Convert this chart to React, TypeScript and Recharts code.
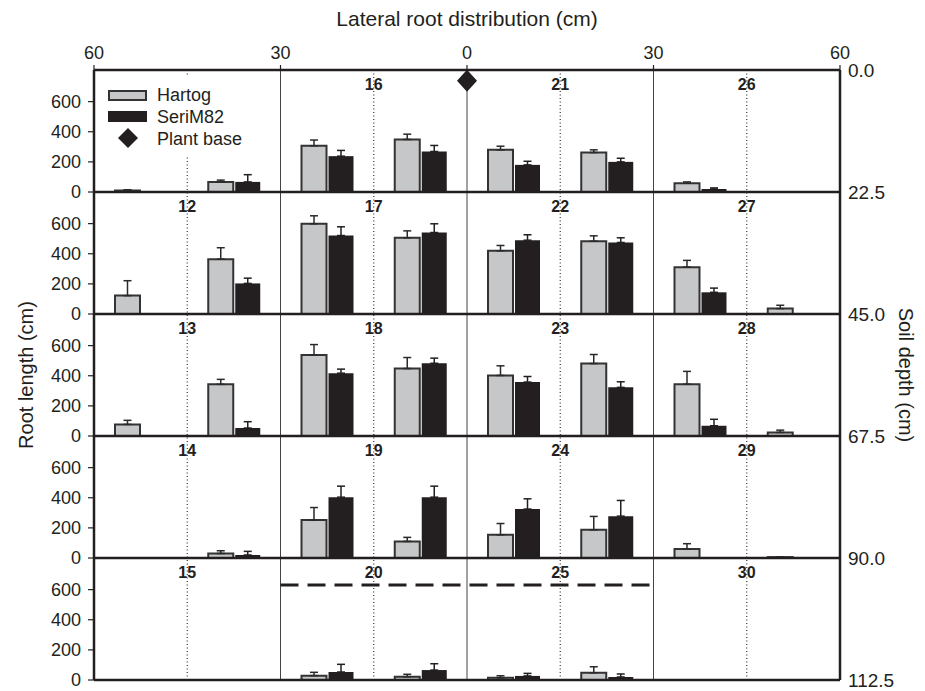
import React from 'react';
import {
  ComposedChart,
  Bar,
  XAxis,
  YAxis,
  ErrorBar,
  ReferenceLine,
  ReferenceArea,
  ReferenceDot,
  Legend,
} from 'recharts';

// Lateral sub-position centres (cm from plant base, negative = left side)
const positions = [-52.5, -37.5, -22.5, -7.5, 7.5, 22.5, 37.5, 52.5];

// Root length (cm) per soil layer
const hartog_0_22 = [10, 67, 307, 349, 280, 262, 58, 0];
const hartogErr_0_22 = [5, 12, 38, 35, 24, 18, 9, 0];
const seri_0_22 = [0, 67, 238, 269, 180, 200, 20, 0];
const seriErr_0_22 = [0, 48, 38, 40, 24, 24, 7, 0];

const hartog_22_45 = [122, 364, 599, 506, 420, 483, 311, 36];
const hartogErr_22_45 = [99, 76, 53, 46, 35, 36, 45, 22];
const seri_22_45 = [0, 203, 521, 541, 490, 475, 144, 0];
const seriErr_22_45 = [0, 35, 58, 58, 36, 31, 28, 0];

const hartog_45_67 = [77, 343, 538, 448, 402, 481, 344, 24];
const hartogErr_45_67 = [27, 33, 69, 73, 64, 60, 85, 15];
const seri_45_67 = [0, 53, 417, 483, 358, 323, 68, 0];
const seriErr_45_67 = [0, 42, 27, 34, 37, 37, 43, 0];

const hartog_67_90 = [0, 30, 252, 110, 154, 187, 59, 6];
const hartogErr_67_90 = [7, 18, 83, 27, 75, 89, 36, 0];
const seri_67_90 = [0, 20, 404, 404, 325, 278, 0, 0];
const seriErr_67_90 = [0, 24, 73, 73, 68, 104, 3, 0];

const hartog_90_112 = [0, 0, 29, 22, 15, 48, 0, 0];
const hartogErr_90_112 = [0, 0, 22, 16, 13, 40, 0, 0];
const seri_90_112 = [0, 0, 53, 66, 27, 20, 0, 0];
const seriErr_90_112 = [0, 0, 51, 42, 17, 20, 0, 0];

const layers = [
  { h: hartog_0_22, he: hartogErr_0_22, s: seri_0_22, se: seriErr_0_22 },
  { h: hartog_22_45, he: hartogErr_22_45, s: seri_22_45, se: seriErr_22_45 },
  { h: hartog_45_67, he: hartogErr_45_67, s: seri_45_67, se: seriErr_45_67 },
  { h: hartog_67_90, he: hartogErr_67_90, s: seri_67_90, se: seriErr_67_90 },
  { h: hartog_90_112, he: hartogErr_90_112, s: seri_90_112, se: seriErr_90_112 },
];

const depthTicks = [0, 22.5, 45, 67.5, 90, 112.5];
const lateralTicks = [-60, -30, 0, 30, 60];
const lengthTicks = [0, 200, 400, 600];
const panelBounds = [-60, -30, 0, 30, 60];
const dottedLines = [-45, -15, 15, 45];
const columnLines = [-30, 0, 30];
const panelNumbers: (number | null)[][] = [
  [null, 16, 21, 26],
  [12, 17, 22, 27],
  [13, 18, 23, 28],
  [14, 19, 24, 29],
  [15, 20, 25, 30],
];
const legendNames = ['Hartog', 'SeriM82', 'Plant base'];
const plantBase = { lateral: 0, depth: 2 };
const dashedLevel = { value: 630, from: -30, to: 30, layer: 4 };

const ROW_MAX = 810;
const NROWS = layers.length;

const GRAY = '#c6c7c9';
const OUTLINE = '#333333';
const BLACK = '#231f20';
const FONT = '"Liberation Sans", Arial, Helvetica, sans-serif';

const data = positions.map((p, i) => {
  const o: any = { pos: p };
  layers.forEach((l, k) => {
    o[`h${k}`] = l.h[i];
    o[`he${k}`] = [0, l.he[i]];
    o[`s${k}`] = l.s[i];
    o[`se${k}`] = [0, l.se[i]];
  });
  return o;
});

const lenAxisTicks: number[] = [];
for (let k = 0; k < NROWS; k++) {
  lengthTicks.forEach((t) => lenAxisTicks.push(k * ROW_MAX + t));
}

const LegendBox = () => (
  <div style={{ background: '#fff', width: 150, height: 80 }}>
    <svg width={150} height={80} style={{ display: 'block' }}>
      <rect x={9} y={15} width={37} height={9} fill={GRAY} stroke={OUTLINE} strokeWidth={2} />
      <text x={57} y={25} fontSize={18} fill={BLACK} fontFamily={FONT}>{legendNames[0]}</text>
      <rect x={8} y={35} width={39} height={11} fill={BLACK} />
      <text x={57} y={47} fontSize={18} fill={BLACK} fontFamily={FONT}>{legendNames[1]}</text>
      <polygon points="28,52 38,62 28,72 18,62" fill={BLACK} />
      <text x={57} y={69} fontSize={18} fill={BLACK} fontFamily={FONT}>{legendNames[2]}</text>
    </svg>
  </div>
);

const Diamond = (p: any) => {
  const { cx, cy } = p;
  const r = 11;
  return (
    <polygon
      points={`${cx},${cy - r} ${cx + r - 1},${cy} ${cx},${cy + r} ${cx - r + 1},${cy}`}
      fill={BLACK}
    />
  );
};

export default function App() {
  return (
    <div style={{ position: 'absolute', left: 0, top: 0, width: 925, height: 691, background: '#fff', fontFamily: FONT }}>
      <ComposedChart
        width={925}
        height={691}
        data={data}
        margin={{ top: 0, right: 0, bottom: 11, left: 0 }}
        barGap={2}
        barSize={25}
      >
        <XAxis
          xAxisId="lat"
          dataKey="pos"
          type="number"
          scale="linear"
          orientation="top"
          domain={[-60, 60]}
          allowDataOverflow
          ticks={lateralTicks}
          tickFormatter={(v: number) => String(Math.abs(v))}
          height={70}
          tickSize={5}
          tickMargin={6}
          axisLine={false}
          tickLine={{ stroke: BLACK, strokeWidth: 1.2 }}
          tick={{ fontSize: 18, fill: BLACK }}
          interval={0}
          label={(p: any) => {
            const vb = p.viewBox || { x: 94, y: 0, width: 746, height: 70 };
            return (
              <text x={vb.x + vb.width / 2} y={26} textAnchor="middle" fontSize={21} fill={BLACK}>
                Lateral root distribution (cm)
              </text>
            );
          }}
        />
        {layers.map((_, r) => (
          <XAxis key={`c${r}`} xAxisId={`c${r}`} dataKey="pos" type="category" hide />
        ))}
        <YAxis
          yAxisId="len"
          type="number"
          domain={[0, NROWS * ROW_MAX]}
          allowDataOverflow
          ticks={lenAxisTicks}
          interval={0}
          tickFormatter={(v: number) => String(Math.round(v % ROW_MAX))}
          width={94}
          tickSize={6}
          tickMargin={7}
          axisLine={false}
          tickLine={{ stroke: BLACK, strokeWidth: 1.2 }}
          tick={{ fontSize: 18, fill: BLACK }}
          label={(p: any) => {
            const vb = p.viewBox || { x: 0, y: 70, width: 94, height: 610 };
            const cx = vb.x + 26;
            const cy = vb.y + vb.height / 2;
            return (
              <text x={cx} y={cy} textAnchor="middle" dominantBaseline="central" fontSize={20} fill={BLACK} transform={`rotate(-90, ${cx}, ${cy})`}>
                Root length (cm)
              </text>
            );
          }}
        />
        <YAxis
          yAxisId="depth"
          orientation="right"
          type="number"
          domain={[0, 112.5]}
          reversed
          allowDataOverflow
          ticks={depthTicks}
          interval={0}
          tickFormatter={(v: number) => v.toFixed(1)}
          width={85}
          tickSize={0}
          tickMargin={8}
          axisLine={false}
          tickLine={false}
          tick={{ fontSize: 19, fill: BLACK }}
          label={(p: any) => {
            const vb = p.viewBox || { x: 840, y: 70, width: 85, height: 610 };
            const cx = vb.x + 66;
            const cy = vb.y + vb.height / 2;
            return (
              <text x={cx} y={cy} textAnchor="middle" dominantBaseline="central" fontSize={20} fill={BLACK} transform={`rotate(90, ${cx}, ${cy})`}>
                Soil depth (cm)
              </text>
            );
          }}
        />
        {layers.map((_, r) => (
          <YAxis
            key={`r${r}`}
            yAxisId={`r${r}`}
            type="number"
            domain={[-(NROWS - 1 - r) * ROW_MAX, (r + 1) * ROW_MAX]}
            allowDataOverflow
            hide
          />
        ))}

        {panelNumbers.map((row, r) =>
          row.map((n, c) =>
            n === null ? null : (
              <ReferenceArea
                key={`pa${r}-${c}`}
                xAxisId="lat"
                yAxisId="depth"
                x1={panelBounds[c]}
                x2={panelBounds[c + 1]}
                y1={depthTicks[r]}
                y2={depthTicks[r + 1]}
                fill="none"
                fillOpacity={0}
                stroke="none"
                label={{ value: String(n), position: 'insideTop', offset: 9, fontSize: 16, fontWeight: 'bold', fill: BLACK }}
              />
            ),
          ),
        )}

        {dottedLines.map((x) => (
          <ReferenceLine key={`d${x}`} xAxisId="lat" yAxisId="depth" x={x} stroke="#333" strokeWidth={1.2} strokeDasharray="1 2.5" />
        ))}
        {columnLines.map((x) => (
          <ReferenceLine key={`cl${x}`} xAxisId="lat" yAxisId="depth" x={x} stroke="#444" strokeWidth={1} />
        ))}

        {layers.map((_, r) => [
          <Bar
            key={`h${r}`}
            xAxisId={`c${r}`}
            yAxisId={`r${r}`}
            dataKey={`h${r}`}
            name="Hartog"
            fill={GRAY}
            stroke={OUTLINE}
            strokeWidth={2}
            isAnimationActive={false}
          >
            <ErrorBar dataKey={`he${r}`} width={4} stroke="#2a2a2a" strokeWidth={1.5} direction="y" />
          </Bar>,
          <Bar
            key={`s${r}`}
            xAxisId={`c${r}`}
            yAxisId={`r${r}`}
            dataKey={`s${r}`}
            name="SeriM82"
            fill={BLACK}
            isAnimationActive={false}
          >
            <ErrorBar dataKey={`se${r}`} width={4} stroke={BLACK} strokeWidth={1.5} direction="y" />
          </Bar>,
        ])}

        {depthTicks.slice(1, -1).map((y) => (
          <ReferenceLine key={`rd${y}`} xAxisId="lat" yAxisId="depth" y={y} stroke={BLACK} strokeWidth={2.5} />
        ))}
        <ReferenceLine xAxisId="lat" yAxisId="depth" y={0} stroke={BLACK} strokeWidth={2.5} />
        <ReferenceLine xAxisId="lat" yAxisId="depth" y={112.5} stroke={BLACK} strokeWidth={2.5} />
        <ReferenceLine xAxisId="lat" yAxisId="depth" x={-60} stroke={BLACK} strokeWidth={2.5} />
        <ReferenceLine xAxisId="lat" yAxisId="depth" x={60} stroke={BLACK} strokeWidth={2.5} />

        <ReferenceLine
          xAxisId="lat"
          yAxisId={`r${dashedLevel.layer}`}
          segment={[
            { x: dashedLevel.from, y: dashedLevel.value },
            { x: dashedLevel.to, y: dashedLevel.value },
          ]}
          stroke={BLACK}
          strokeWidth={3}
          strokeDasharray="18 9"
        />

        <ReferenceDot
          xAxisId="lat"
          yAxisId="depth"
          x={plantBase.lateral}
          y={plantBase.depth}
          r={11}
          shape={Diamond}
        />

        <Legend
          layout="vertical"
          align="center"
          verticalAlign="middle"
          content={() => <LegendBox />}
          wrapperStyle={{ left: 100, top: 76, width: 150, height: 80 }}
        />
      </ComposedChart>
    </div>
  );
}
